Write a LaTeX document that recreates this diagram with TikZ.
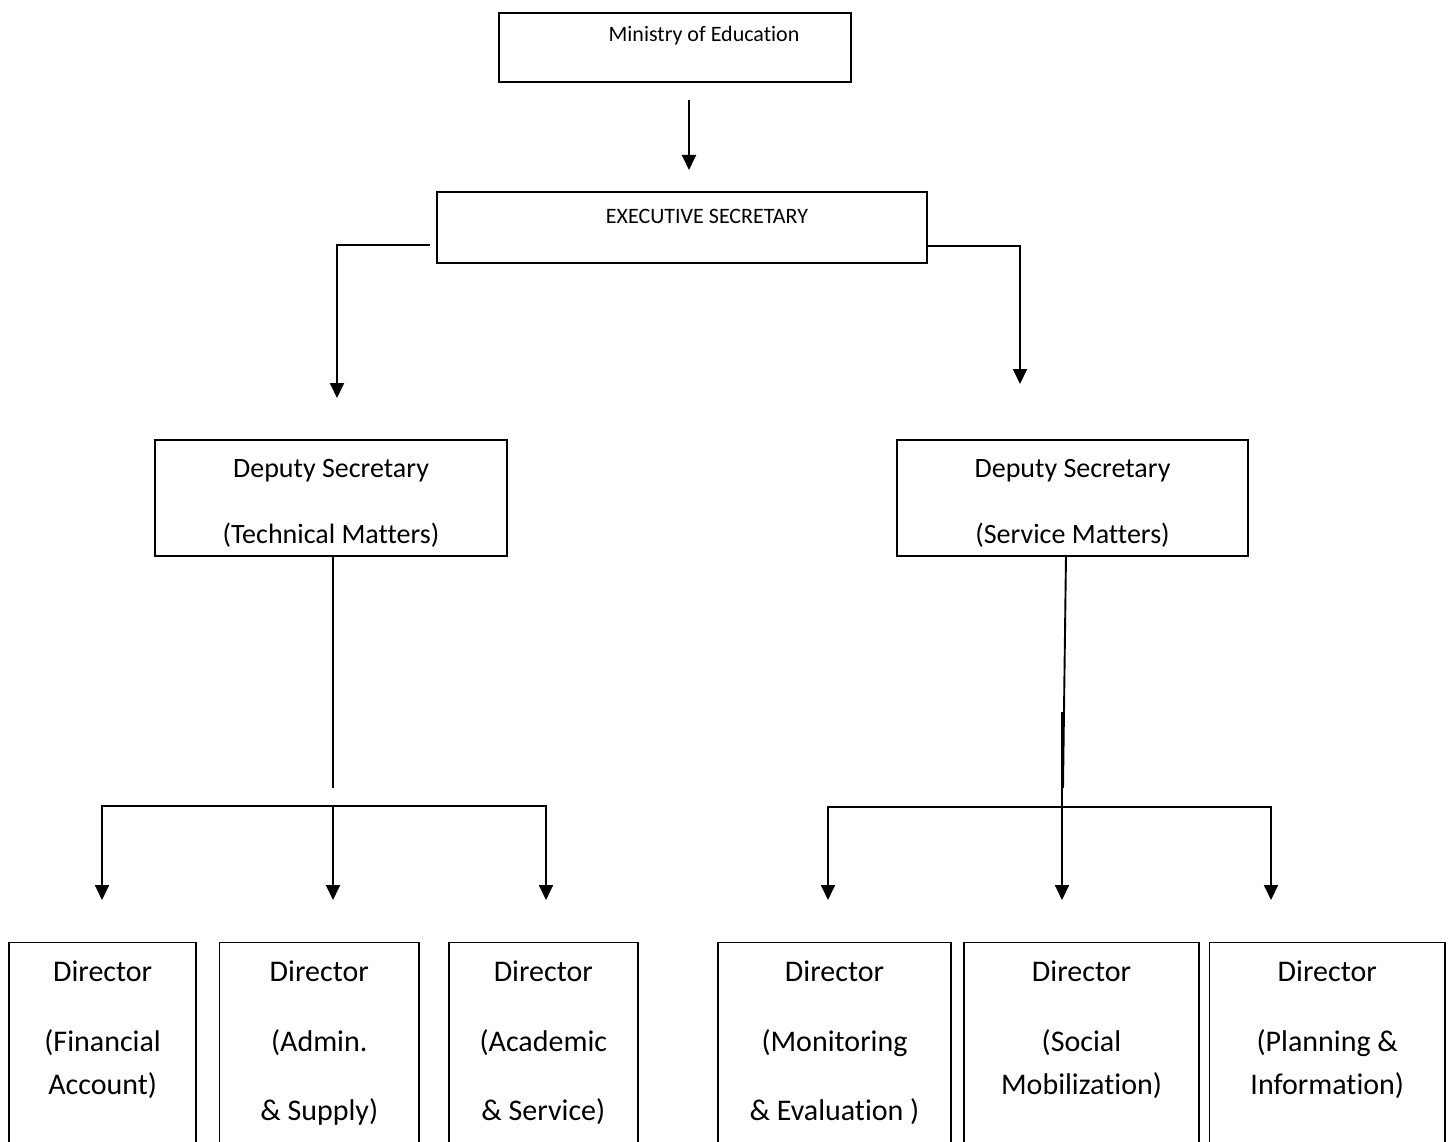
\documentclass[tikz,border=0pt]{standalone}
\usepackage{fontspec}
\setmainfont{Carlito}[Ligatures={NoCommon}]
\usetikzlibrary{arrows.meta,calc}
\begin{document}
\begin{tikzpicture}[x=1pt,y=-1pt,
  line width=1.9pt,
  orgbox/.style={draw, line width=1.8pt, inner xsep=0pt, inner ysep=0pt, anchor=north},
  topfont/.style={font=\fontsize{22}{26}\selectfont},
  deputy/.style={orgbox, font=\fontsize{28}{40}\selectfont, text height=38pt, text depth=78pt},
  director/.style={orgbox, font=\fontsize{30}{43}\selectfont, text height=39.5pt, text depth=230pt},
  tip/.tip={Triangle[width=14pt,length=15pt]},
  arr/.style={-tip},
  biarr/.style={tip-tip}
]
\clip (0,0) rectangle (1451,1142);
\fill[white] (0,0) rectangle (1451,1142);

% top of the hierarchy
\node[orgbox, topfont, minimum width=352pt, text height=28.7pt, text depth=40.3pt]
  (min) at (675,12) {\hspace*{58pt}Ministry of Education};
\node[orgbox, topfont, minimum width=490pt, text height=31.7pt, text depth=39.3pt]
  (exec) at (682,191) {\hspace*{50pt}EXECUTIVE SECRETARY};

% deputy secretaries
\node[deputy, minimum width=352pt] (depL) at (331,439)
  {\begin{tabular}[t]{@{}c@{}}Deputy Secretary\\[26pt](Technical Matters)\end{tabular}};
\node[deputy, minimum width=351pt] (depR) at (1072.5,439)
  {\begin{tabular}[t]{@{}c@{}}Deputy Secretary\\[26pt](Service Matters)\end{tabular}};

% directors
\node[director, minimum width=186.7pt] (d1) at (102.65,941.5)
  {\begin{tabular}[t]{@{}c@{}}Director\\[26.5pt](Financial\\Account)\end{tabular}};
\node[director, minimum width=199.5pt] (d2) at (319.25,941.5)
  {\begin{tabular}[t]{@{}c@{}}Director\\[26.5pt](Admin.\\[26.5pt]\& Supply)\end{tabular}};
\node[director, minimum width=189.4pt] (d3) at (543.3,941.5)
  {\begin{tabular}[t]{@{}c@{}}Director\\[26.5pt](Academic\\[26.5pt]\& Service)\end{tabular}};
\node[director, minimum width=232.4pt] (d4) at (834.5,941.5)
  {\begin{tabular}[t]{@{}c@{}}Director\\[26.5pt](Monitoring\\[26.5pt]\& Evaluation )\end{tabular}};
\node[director, minimum width=235pt] (d5) at (1081.5,941.5)
  {\begin{tabular}[t]{@{}c@{}}Director\\[26.5pt](Social\\Mobilization)\end{tabular}};
\node[director, minimum width=235.5pt] (d6) at (1327.25,941.5)
  {\begin{tabular}[t]{@{}c@{}}Director\\[26.5pt](Planning \&\\Information)\end{tabular}};

% connector points
\coordinate (m1) at (689,100);
\coordinate (m2) at (689,170);
\coordinate (exL) at (430,245);
\coordinate (tipL) at (337,398);
\coordinate (tipR) at (1020,384);
\coordinate (jL) at (333,788);
\coordinate (hL) at (333,806);
\coordinate (sR) at (1066,555);
\coordinate (jR) at (1063,788);
\coordinate (mR) at (1062,712);
\coordinate (hR) at (1062,807);
\coordinate (aL1) at (102,900);
\coordinate (aL2) at (333,900);
\coordinate (aL3) at (546,900);
\coordinate (aR1) at (828,900);
\coordinate (aR2) at (1062,900);
\coordinate (aR3) at (1271,900);

% ministry to executive secretary
\draw[arr] (m1) -- (m2);

% executive secretary to deputies
\draw[arr] (exL) -| (tipL);
\draw[arr] ([yshift=-18.5pt]exec.east) -| (tipR);

% technical branch
\draw (depL.south -| jL) -- (jL);
\draw[biarr] (aL1) |- (hL) -| (aL3);
\draw[arr] (hL) -- (aL2);

% service branch
\draw (sR) -- (jR);
\draw[biarr] (aR1) |- (hR) -| (aR3);
\draw[arr] (mR) -- (aR2);
\end{tikzpicture}
\end{document}
